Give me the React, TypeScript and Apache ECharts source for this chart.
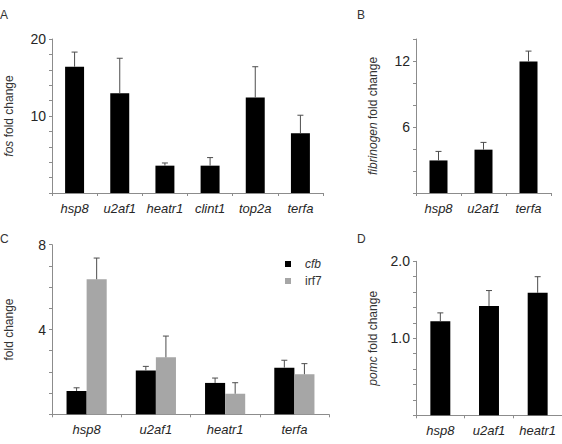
import React, { useEffect, useRef } from "react";
import * as echarts from "echarts";

const catsA = ["hsp8", "u2af1", "heatr1", "clint1", "top2a", "terfa"];
const fosMean = [16.4, 12.95, 3.55, 3.55, 12.4, 7.75];
const fosErr = [1.9, 4.55, 0.35, 1.05, 4.0, 2.35];

const catsB = ["hsp8", "u2af1", "terfa"];
const fibMean = [2.96, 3.94, 11.96];
const fibErr = [0.82, 0.66, 0.94];

const catsC = ["hsp8", "u2af1", "heatr1", "terfa"];
const cfbMean = [1.1, 2.07, 1.48, 2.2];
const cfbErr = [0.15, 0.19, 0.23, 0.35];
const irf7Mean = [6.37, 2.69, 0.97, 1.89];
const irf7Err = [1.0, 1.0, 0.52, 0.5];

const catsD = ["hsp8", "u2af1", "heatr1"];
const pomcMean = [1.22, 1.42, 1.59];
const pomcErr = [0.11, 0.2, 0.21];

const FONT = "Liberation Sans, Arial, sans-serif";
const AXIS_COLOR = "#8c8c8c";
const TEXT_COLOR = "#262626";

function xAxis(gridIndex: number, data: string[]) {
  return {
    type: "category",
    gridIndex,
    data,
    axisLine: { lineStyle: { color: AXIS_COLOR, width: 1 } },
    axisTick: { show: true, length: 3, lineStyle: { color: AXIS_COLOR } },
    axisLabel: {
      fontFamily: FONT,
      fontSize: 13,
      fontStyle: "italic",
      color: TEXT_COLOR,
      margin: 9,
      interval: 0,
    },
  };
}

function yAxis(
  gridIndex: number,
  max: number,
  interval: number,
  labels: number[],
  name: string,
  fmt: (v: number) => string,
  nameGap: number
) {
  return {
    type: "value",
    gridIndex,
    min: 0,
    max,
    interval,
    name,
    nameLocation: "middle",
    nameRotate: 90,
    nameGap,
    nameTextStyle: {
      fontFamily: FONT,
      fontSize: 12,
      color: "#333",
      rich: { i: { fontStyle: "italic", fontFamily: FONT, fontSize: 12, color: "#333" } },
    },
    splitLine: { show: false },
    axisLine: { show: true, lineStyle: { color: AXIS_COLOR, width: 1 } },
    axisTick: { show: true, length: 3, lineStyle: { color: AXIS_COLOR } },
    axisLabel: {
      fontFamily: FONT,
      fontSize: 14,
      color: TEXT_COLOR,
      margin: 6,
      formatter: (v: number) => (labels.some((l) => Math.abs(l - v) < 1e-6) ? fmt(v) : ""),
    },
  };
}

function errSeries(idx: number, means: number[], errs: number[], offset: number) {
  return {
    type: "custom",
    xAxisIndex: idx,
    yAxisIndex: idx,
    z: 5,
    data: means.map((m, i) => [i, m, errs[i]]),
    encode: { x: 0, y: 1 },
    renderItem: (params: any, api: any) => {
      const x = api.value(0);
      const m = api.value(1);
      const e = api.value(2);
      const base = api.coord([x, m]);
      const top = api.coord([x, m + e]);
      const bw = api.size([1, 0])[0];
      const cx = base[0] + offset * bw;
      const st = { stroke: "#4d4d4d", lineWidth: 1 };
      return {
        type: "group",
        children: [
          { type: "line", shape: { x1: cx, y1: base[1], x2: cx, y2: top[1] }, style: st },
          { type: "line", shape: { x1: cx - 3, y1: top[1], x2: cx + 3, y2: top[1] }, style: st },
        ],
      };
    },
  };
}

function bar(idx: number, name: string, data: number[], color: string, width: string) {
  return {
    type: "bar",
    name,
    xAxisIndex: idx,
    yAxisIndex: idx,
    data,
    barWidth: width,
    barGap: "0%",
    itemStyle: { color },
  };
}

export default function App() {
  const ref = useRef<HTMLDivElement>(null);
  useEffect(() => {
    if (!ref.current) return;
    const chart = echarts.init(ref.current, null, { renderer: "svg" });
    const letter = (t: string, x: number, y: number) => ({
      type: "text",
      x,
      y,
      style: { text: t, fontFamily: FONT, fontSize: 12, fill: "#333" },
    });
    chart.setOption({
      animation: false,
      backgroundColor: "#ffffff",
      grid: [
        { left: 52, top: 39, width: 271, height: 154 },
        { left: 416, top: 39, width: 135, height: 154 },
        { left: 52, top: 244.7, width: 277, height: 169.6 },
        { left: 416, top: 261.3, width: 153, height: 154 },
      ],
      xAxis: [xAxis(0, catsA), xAxis(1, catsB), xAxis(2, catsC), xAxis(3, catsD)],
      yAxis: [
        yAxis(0, 20, 2, [10, 20], "{i|fos} fold change", (v) => String(v), 37),
        yAxis(1, 14, 2, [6, 12], "{i|fibrinogen} fold change", (v) => String(v), 37),
        yAxis(2, 8, 1, [4, 8], "fold change", (v) => String(v), 37),
        yAxis(3, 2, 0.2, [1, 2], "{i|pomc} fold change", (v) => v.toFixed(1), 37),
      ],
      legend: {
        orient: "vertical",
        left: 285,
        top: 258,
        padding: 0,
        itemWidth: 6,
        itemHeight: 6,
        itemGap: 5,
        icon: "rect",
        data: ["cfb", "irf7"],
        formatter: (n: string) => (n === "cfb" ? "{i|cfb}" : n),
        textStyle: {
          fontFamily: FONT,
          fontSize: 12,
          color: "#333",
          padding: [0, 0, 0, 9],
          rich: { i: { fontStyle: "italic", fontFamily: FONT, fontSize: 12, color: "#333" } },
        },
      },
      graphic: [
        letter("A", 0, 9),
        letter("B", 357, 9),
        letter("C", 0, 233),
        letter("D", 357, 233),
      ],
      series: [
        bar(0, "fos", fosMean, "#000000", "42%"),
        errSeries(0, fosMean, fosErr, 0),
        bar(1, "fibrinogen", fibMean, "#000000", "40%"),
        errSeries(1, fibMean, fibErr, 0),
        bar(2, "cfb", cfbMean, "#000000", "29%"),
        bar(2, "irf7", irf7Mean, "#a6a6a6", "29%"),
        errSeries(2, cfbMean, cfbErr, -0.145),
        errSeries(2, irf7Mean, irf7Err, 0.145),
        bar(3, "pomc", pomcMean, "#000000", "41%"),
        errSeries(3, pomcMean, pomcErr, 0),
      ],
    });
    return () => chart.dispose();
  }, []);
  return (
    <div
      ref={ref}
      style={{ position: "fixed", left: 0, top: 0, width: 562, height: 444, background: "#fff" }}
    />
  );
}
